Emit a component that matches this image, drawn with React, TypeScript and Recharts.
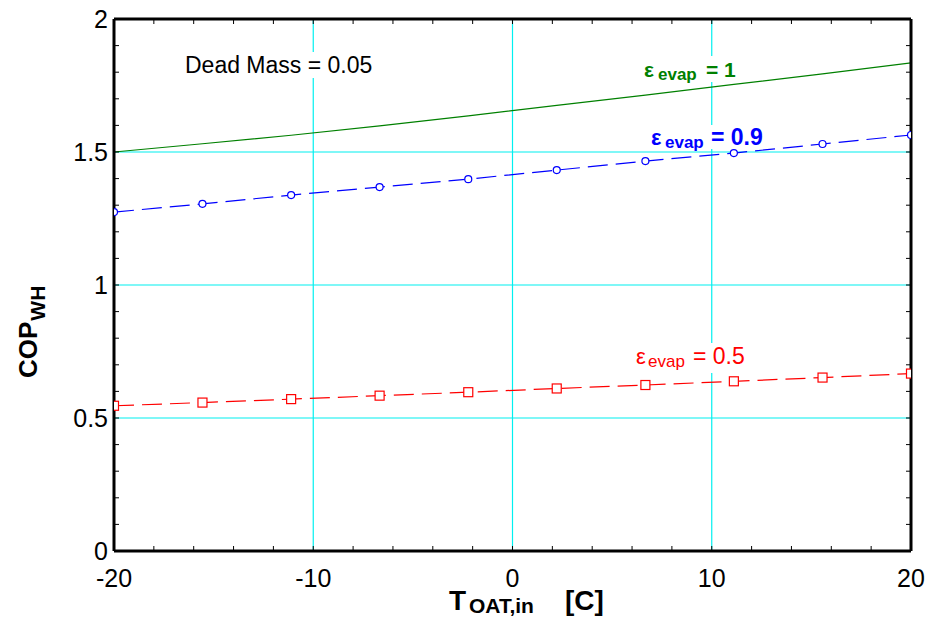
import React from 'react';
import { LineChart, Line, XAxis, YAxis, CartesianGrid } from 'recharts';

const tOat = [-20, -15.56, -11.11, -6.67, -2.22, 2.22, 6.67, 11.11, 15.56, 20];
const copEps10 = [1.5, 1.531, 1.563, 1.598, 1.636, 1.675, 1.714, 1.754, 1.794, 1.835];
const copEps09 = [1.274, 1.305, 1.338, 1.368, 1.398, 1.432, 1.466, 1.496, 1.53, 1.564];
const copEps05 = [0.546, 0.558, 0.571, 0.584, 0.597, 0.611, 0.624, 0.638, 0.652, 0.667];

const xTicks = [-20, -18, -16, -14, -12, -10, -8, -6, -4, -2, 0, 2, 4, 6, 8, 10, 12, 14, 16, 18, 20];
const xMajor = [-20, -10, 0, 10, 20];
const yTicks = [0, 0.1, 0.2, 0.3, 0.4, 0.5, 0.6, 0.7, 0.8, 0.9, 1, 1.1, 1.2, 1.3, 1.4, 1.5, 1.6, 1.7, 1.8, 1.9, 2];
const yMajor = [0, 0.5, 1, 1.5, 2];
const xGrid = [-10, 0, 10];
const yGrid = [0.5, 1, 1.5];

const data = tOat.map((t, i) => ({ t, e10: copEps10[i], e09: copEps09[i], e05: copEps05[i] }));

const FONT = 'Arial, "Liberation Sans", sans-serif';
const TL = 5;

const isMajor = (arr: number[], v: number) => arr.some((m) => Math.abs(m - v) < 1e-9);

const BottomTick = (p: any) => {
  const v = p.payload.value;
  return (
    <g>
      <line x1={p.x} x2={p.x} y1={p.y} y2={p.y - TL} stroke="#000" strokeWidth={1} />
      {isMajor(xMajor, v) && (
        <text x={p.x} y={p.y + 36} textAnchor="middle" fontSize={25} fontFamily={FONT} fill="#000">
          {String(v)}
        </text>
      )}
    </g>
  );
};
const TopTick = (p: any) => (
  <line x1={p.x} x2={p.x} y1={p.y} y2={p.y + TL} stroke="#000" strokeWidth={1} />
);
const LeftTick = (p: any) => {
  const v = p.payload.value;
  return (
    <g>
      <line x1={p.x} x2={p.x + TL} y1={p.y} y2={p.y} stroke="#000" strokeWidth={1} />
      {isMajor(yMajor, v) && (
        <text x={p.x - 6} y={p.y + 9} textAnchor="end" fontSize={25} fontFamily={FONT} fill="#000">
          {String(v)}
        </text>
      )}
    </g>
  );
};
const RightTick = (p: any) => (
  <line x1={p.x} x2={p.x - TL} y1={p.y} y2={p.y} stroke="#000" strokeWidth={1} />
);

const SquareDot = (p: any) => {
  if (p.cx == null || p.cy == null) return <g key={p.index} />;
  return (
    <rect key={p.index} x={p.cx - 4.5} y={p.cy - 4.5} width={9} height={9} fill="#fff" stroke="#ff0000" strokeWidth={1.2} />
  );
};

export default function App() {
  return (
    <div style={{ position: 'absolute', left: 0, top: 0, width: 926, height: 624, background: '#fff' }}>
      <LineChart
        width={926}
        height={624}
        data={data}
        margin={{ top: 18, right: 14, bottom: 72, left: 0 }}
      >
        <CartesianGrid
          xAxisId="bottom"
          yAxisId="left"
          stroke="#00f0f0"
          strokeWidth={1.2}
          verticalValues={xGrid}
          horizontalValues={yGrid}
        />
        <XAxis
          xAxisId="bottom"
          dataKey="t"
          type="number"
          domain={[-20, 20]}
          ticks={xTicks}
          interval={0}
          height={1}
          tickSize={0}
          tickMargin={0}
          tickLine={false}
          tick={BottomTick}
          axisLine={{ stroke: '#000', strokeWidth: 3 }}
          allowDataOverflow
        />
        <XAxis
          xAxisId="top"
          orientation="top"
          dataKey="t"
          type="number"
          domain={[-20, 20]}
          ticks={xTicks}
          interval={0}
          height={1}
          tickSize={0}
          tickMargin={0}
          tickLine={false}
          tick={TopTick}
          axisLine={{ stroke: '#000', strokeWidth: 3 }}
          allowDataOverflow
        />
        <YAxis
          yAxisId="left"
          type="number"
          domain={[0, 2]}
          ticks={yTicks}
          interval={0}
          width={114}
          tickSize={0}
          tickMargin={0}
          tickLine={false}
          tick={LeftTick}
          axisLine={{ stroke: '#000', strokeWidth: 3 }}
          allowDataOverflow
        />
        <YAxis
          yAxisId="right"
          orientation="right"
          type="number"
          domain={[0, 2]}
          ticks={yTicks}
          interval={0}
          width={1}
          tickSize={0}
          tickMargin={0}
          tickLine={false}
          tick={RightTick}
          axisLine={{ stroke: '#000', strokeWidth: 3 }}
          allowDataOverflow
        />
        <Line
          xAxisId="bottom"
          yAxisId="left"
          dataKey="e10"
          type="linear"
          stroke="#008000"
          strokeWidth={1.2}
          dot={false}
          isAnimationActive={false}
        />
        <Line
          xAxisId="bottom"
          yAxisId="left"
          dataKey="e09"
          type="linear"
          stroke="#0000ff"
          strokeWidth={1.2}
          strokeDasharray="20 8"
          dot={{ r: 3.5, fill: '#fff', stroke: '#0000ff', strokeWidth: 1.2, strokeDasharray: '0' }}
          isAnimationActive={false}
        />
        <Line
          xAxisId="bottom"
          yAxisId="left"
          dataKey="e05"
          type="linear"
          stroke="#ff0000"
          strokeWidth={1.2}
          strokeDasharray="20 8"
          dot={SquareDot}
          isAnimationActive={false}
        />
      </LineChart>
      <svg
        width={926}
        height={624}
        style={{ position: 'absolute', left: 0, top: 0, pointerEvents: 'none' }}
        fontFamily={FONT}
      >
        <rect x={181} y={52} width={194} height={26} fill="#fff" />
        <text x={185} y={73} fontSize={23} fill="#000">Dead Mass = 0.05</text>

        <rect x={641} y={56} width={100} height={26} fill="#fff" />
        <text y={77} fill="#008000" fontWeight="bold">
          <tspan x={644} fontSize={21}>ε</tspan>
          <tspan x={658} dy={3} fontSize={17}>evap</tspan>
          <tspan x={706} dy={-3} fontSize={21}>= 1</tspan>
        </text>

        <rect x={648} y={125} width={120} height={24} fill="#fff" />
        <text y={145} fill="#0000ff" fontWeight="bold">
          <tspan x={651} fontSize={22}>ε</tspan>
          <tspan x={665} dy={3} fontSize={17}>evap</tspan>
          <tspan x={711} dy={-3} fontSize={23}>= 0.9</tspan>
        </text>

        <rect x={633} y={343} width={115} height={30} fill="#fff" />
        <text y={364} fill="#ff0000">
          <tspan x={636} fontSize={22}>ε</tspan>
          <tspan x={648} dy={3} fontSize={17}>evap</tspan>
          <tspan x={693} dy={-3} fontSize={23}>= 0.5</tspan>
        </text>

        <text y={610} fill="#000" fontWeight="bold">
          <tspan x={449} fontSize={28}>T</tspan>
          <tspan x={469} dy={3} fontSize={21}>OAT,in</tspan>
          <tspan x={565} dy={-3} fontSize={28}>[C]</tspan>
        </text>

        <text transform="translate(37,378) rotate(-90)" fill="#000" fontWeight="bold">
          <tspan x={0} y={0} fontSize={26}>COP</tspan>
          <tspan dx={1} dy={8} fontSize={21}>WH</tspan>
        </text>
      </svg>
    </div>
  );
}
